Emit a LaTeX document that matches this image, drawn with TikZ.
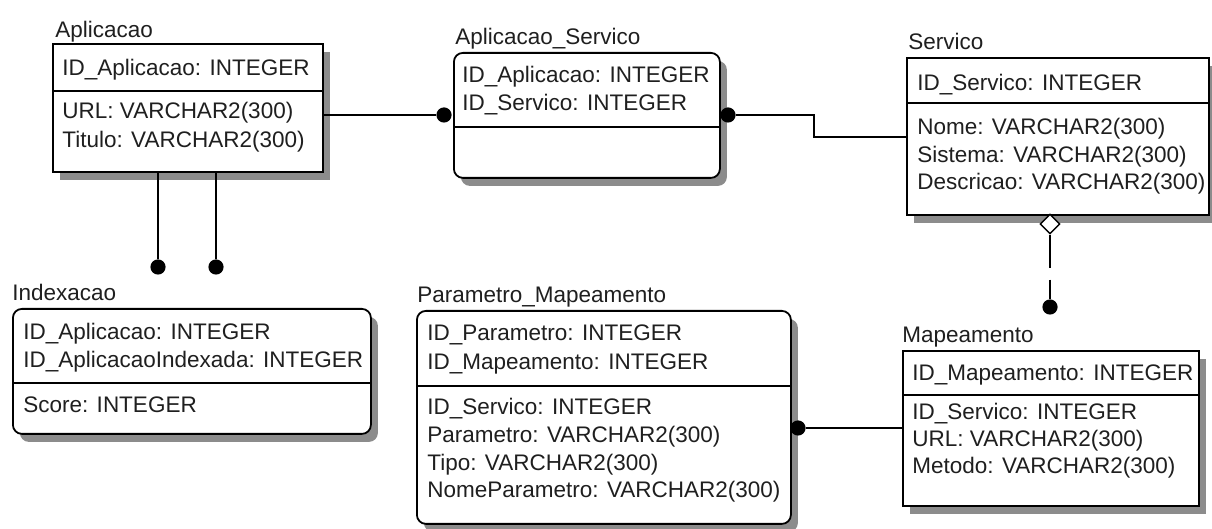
\documentclass[tikz,border=0pt]{standalone}
\usepackage{fontspec}
\setmainfont{Liberation Sans}
\usetikzlibrary{shadows,shapes.geometric}

\tikzset{
  entity/.style={draw, fill=white, line width=0.9pt, inner sep=0pt, anchor=north west,
    drop shadow={shadow xshift=3.5pt, shadow yshift=-4pt, fill=black!45, opacity=1}},
  roundent/.style={entity, rounded corners=4.5pt},
  sepline/.style={line width=0.9pt},
  attr/.style={anchor=base west, inner sep=0pt, text=black!88,
    font=\fontsize{11.25pt}{14pt}\selectfont},
  title/.style={attr},
  rel/.style={line width=0.8pt},
  dot/.style={circle, fill=black, inner sep=0pt, minimum size=7.6pt},
  nullmark/.style={diamond, draw, fill=white, line width=0.7pt, inner sep=0pt, minimum size=10pt},
}

\begin{document}
\begin{tikzpicture}[x=0.5pt, y=-0.5pt]
\useasboundingbox (0,0) rectangle (1212,529);
\fill[white] (0,0) rectangle (1212,529);

% ---------- Aplicacao ----------
\node[entity, minimum width=135pt, minimum height=64pt] (apl) at (52,43) {};
\draw[sepline] (apl.west |- 0,91) -- (apl.east |- 0,91);
\node[title] (apl-t) at (55,38) {Aplicacao};
\node[attr] (apl-1) at (62,76) {ID\_Aplicacao: INTEGER};
\node[attr] (apl-2) at (62,119) {URL: VARCHAR2(300)};
\node[attr] (apl-3) at (62,148) {Titulo: VARCHAR2(300)};

% ---------- Aplicacao_Servico ----------
\node[roundent, minimum width=133pt, minimum height=62.5pt] (aps) at (453,52) {};
\draw[sepline] (aps.west |- 0,127) -- (aps.east |- 0,127);
\node[title] (aps-t) at (455,45) {Aplicacao\_Servico};
\node[attr] (aps-1) at (462,83) {ID\_Aplicacao: INTEGER};
\node[attr] (aps-2) at (462,111) {ID\_Servico: INTEGER};

% ---------- Servico ----------
\node[entity, minimum width=151pt, minimum height=78.5pt] (ser) at (906,57) {};
\draw[sepline] (ser.west |- 0,103) -- (ser.east |- 0,103);
\node[title] (ser-t) at (908,50) {Servico};
\node[attr] (ser-1) at (917,91) {ID\_Servico: INTEGER};
\node[attr] (ser-2) at (917,135) {Nome: VARCHAR2(300)};
\node[attr] (ser-3) at (917,163) {Sistema: VARCHAR2(300)};
\node[attr] (ser-4) at (917,190) {Descricao: VARCHAR2(300)};

% ---------- Indexacao ----------
\node[roundent, minimum width=179pt, minimum height=62.5pt] (idx) at (12,308) {};
\draw[sepline] (idx.west |- 0,383) -- (idx.east |- 0,383);
\node[title] (idx-t) at (12,301) {Indexacao};
\node[attr] (idx-1) at (23,340) {ID\_Aplicacao: INTEGER};
\node[attr] (idx-2) at (23,368) {ID\_AplicacaoIndexada: INTEGER};
\node[attr] (idx-3) at (23,413) {Score: INTEGER};

% ---------- Parametro_Mapeamento ----------
\node[roundent, minimum width=187pt, minimum height=106.5pt] (par) at (416,310) {};
\draw[sepline] (par.west |- 0,386) -- (par.east |- 0,386);
\node[title] (par-t) at (417,303) {Parametro\_Mapeamento};
\node[attr] (par-1) at (427,341) {ID\_Parametro: INTEGER};
\node[attr] (par-2) at (427,370) {ID\_Mapeamento: INTEGER};
\node[attr] (par-3) at (427,415) {ID\_Servico: INTEGER};
\node[attr] (par-4) at (427,443) {Parametro: VARCHAR2(300)};
\node[attr] (par-5) at (427,471) {Tipo: VARCHAR2(300)};
\node[attr] (par-6) at (427,498) {NomeParametro: VARCHAR2(300)};

% ---------- Mapeamento ----------
\node[entity, minimum width=148pt, minimum height=77.5pt] (map) at (902,350) {};
\draw[sepline] (map.west |- 0,395) -- (map.east |- 0,395);
\node[title] (map-t) at (902,343) {Mapeamento};
\node[attr] (map-1) at (912,381) {ID\_Mapeamento: INTEGER};
\node[attr] (map-2) at (912,420) {ID\_Servico: INTEGER};
\node[attr] (map-3) at (912,447) {URL: VARCHAR2(300)};
\node[attr] (map-4) at (912,474) {Metodo: VARCHAR2(300)};

% ---------- relationship ends ----------
\node[dot] (d-aps-l) at (444,115) {};
\node[dot] (d-aps-r) at (728,115) {};
\node[dot] (d-idx-1) at (158,267) {};
\node[dot] (d-idx-2) at (216,267) {};
\node[dot] (d-map) at (1050,307) {};
\node[dot] (d-par) at (798,428) {};
\node[nullmark] (nm-ser) at (1050,224) {};
\coordinate (jog) at (814,137);

% ---------- relationships ----------
\draw[rel] (apl.east |- d-aps-l) -- (d-aps-l);
\draw[rel] (d-aps-r) -- (d-aps-r -| jog) |- (ser.west |- jog);
\draw[rel] (apl.south -| d-idx-1) -- (d-idx-1);
\draw[rel] (apl.south -| d-idx-2) -- (d-idx-2);
\draw[rel, dash pattern=on 16.5pt off 6pt] (nm-ser.south) -- (d-map);
\draw[rel] (d-par) -- (map.west |- d-par);
\end{tikzpicture}
\end{document}
